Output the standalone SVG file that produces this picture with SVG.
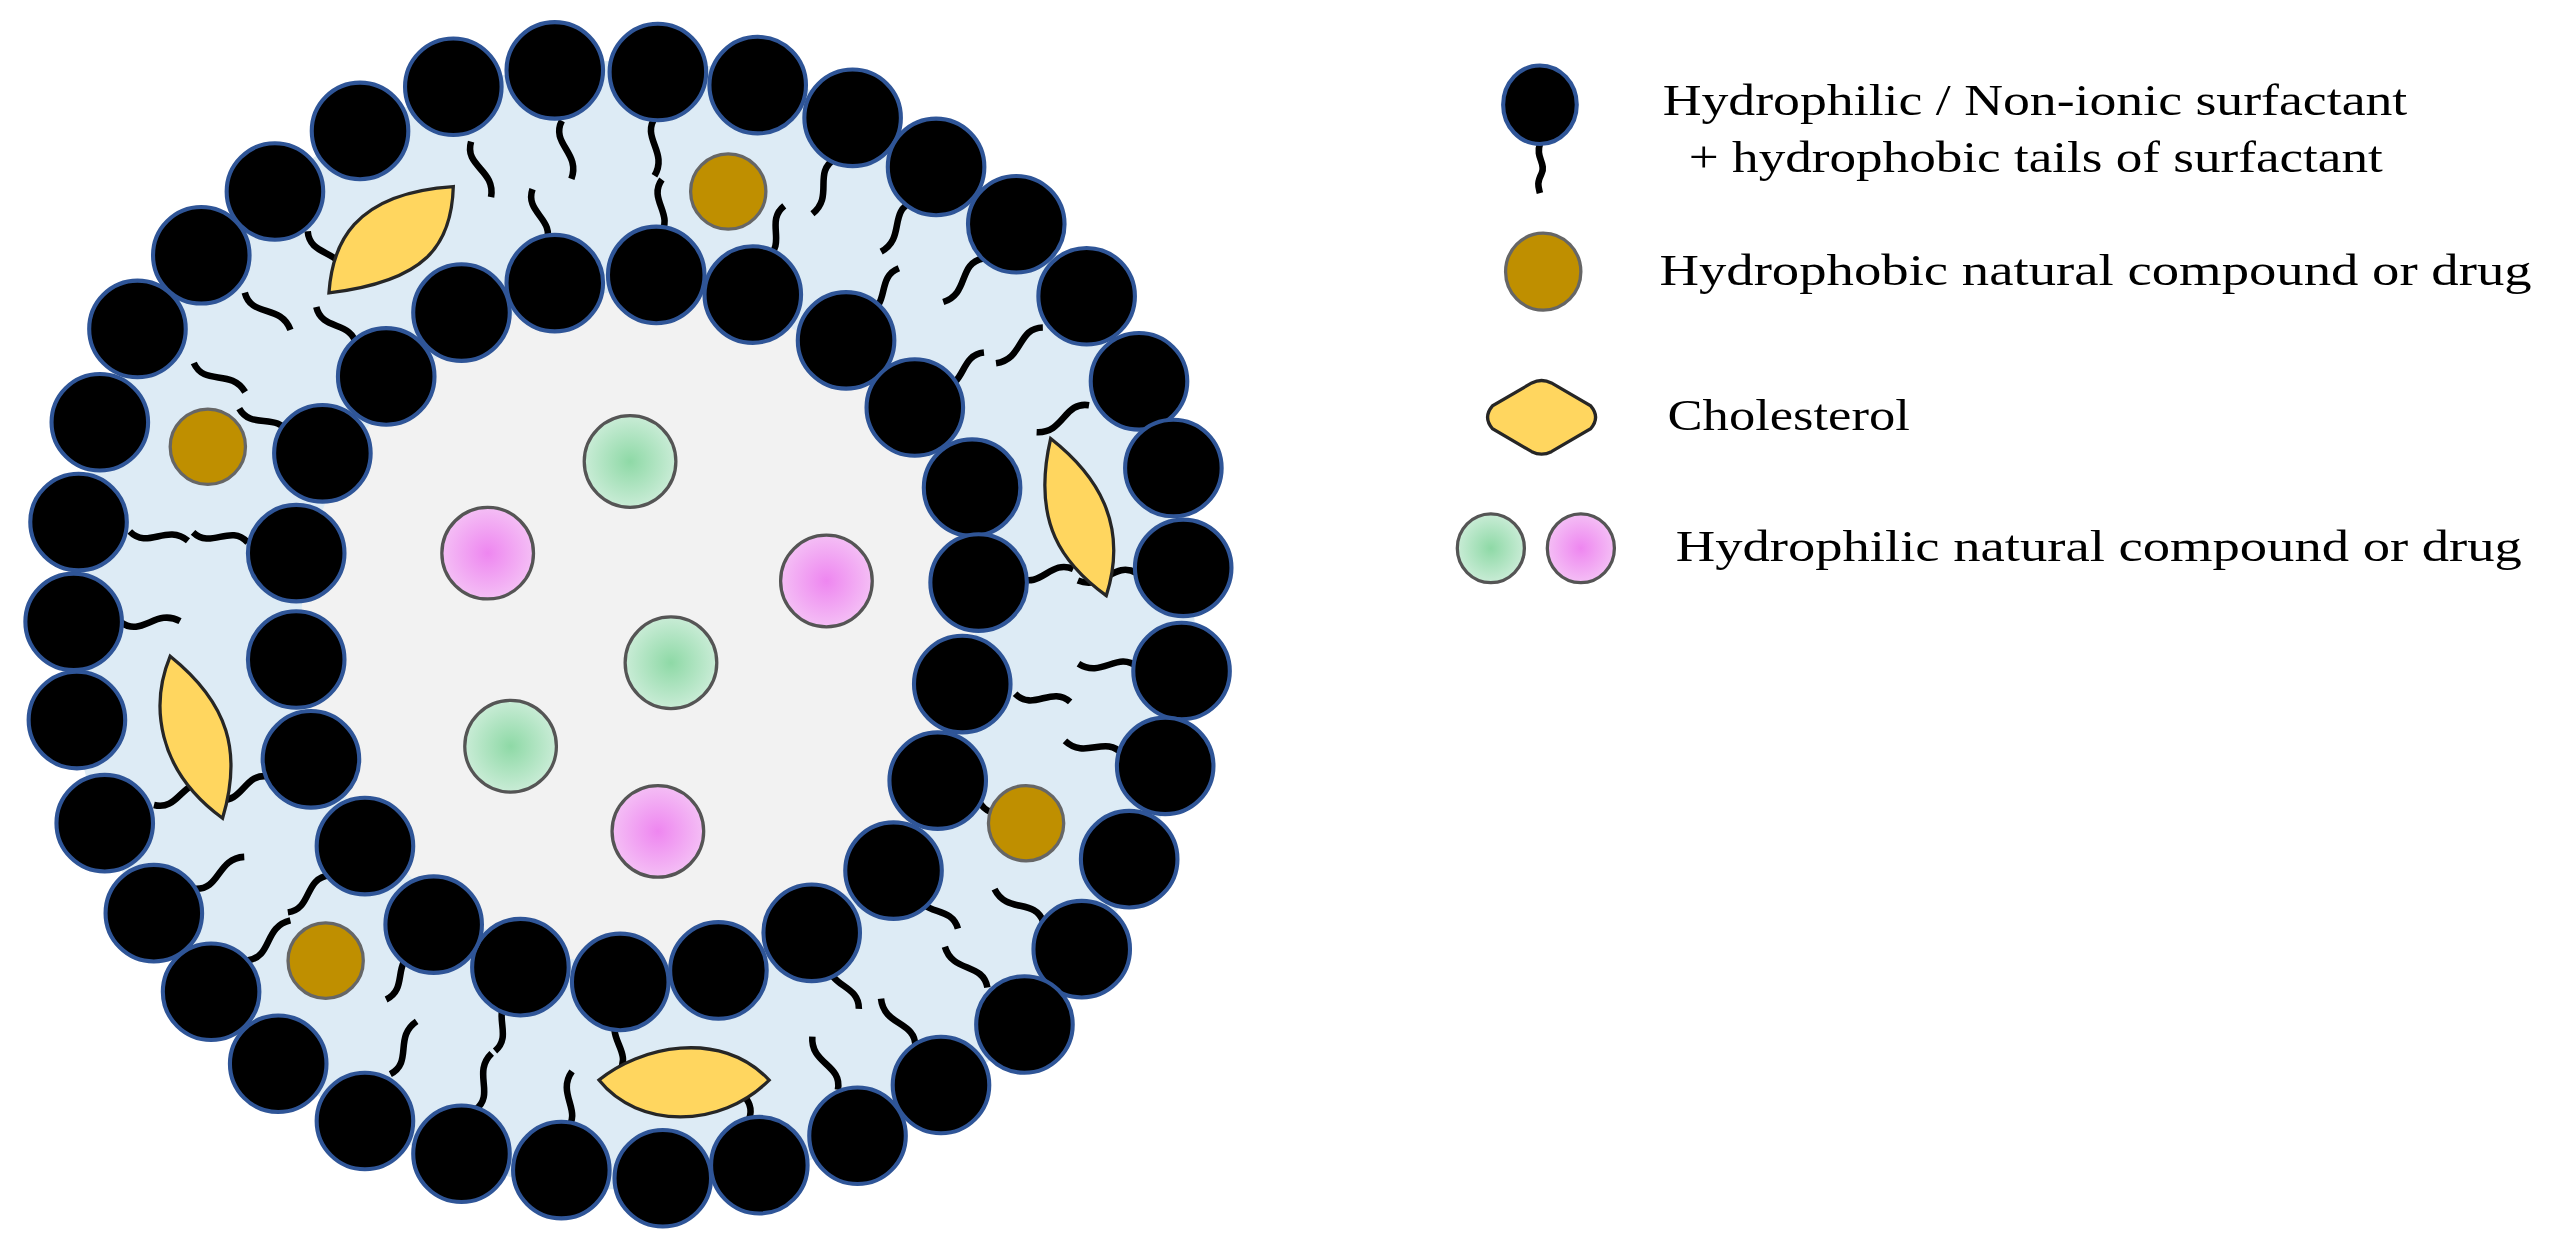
<svg xmlns="http://www.w3.org/2000/svg" xmlns:xlink="http://www.w3.org/1999/xlink" width="2566" height="1249" viewBox="0 0 2566 1249">
<style>
.h{fill:#000;stroke:#2F5597;stroke-width:2.5}
.t{fill:none;stroke:#000;stroke-width:4}
.b{fill:#BF8F00;stroke:#666;stroke-width:2}
.c{fill:#FFD65F;stroke:#262626;stroke-width:2}
.g{fill:url(#gg);stroke:#555;stroke-width:2}
.p{fill:url(#gp);stroke:#555;stroke-width:2}
.lt{font-family:"Liberation Serif",serif;font-size:27px;fill:#000}
</style>
<defs>
<radialGradient id="gg"><stop offset="0" stop-color="#8ED9A6"/><stop offset="1" stop-color="#C9ECD6"/></radialGradient>
<radialGradient id="gp"><stop offset="0" stop-color="#EE86F0"/><stop offset="1" stop-color="#F4BEF5"/></radialGradient>
<path id="to" class="t" d="M385,71 C376,84 394,92 386,107"/>
<path id="ti" class="t" d="M385,143 C394,130 376,122 384,109"/>
</defs>
<rect width="2566" height="1249" fill="#fff"/>
<g transform="scale(1.6365)">
<g id="membrane">
<circle cx="385" cy="382" r="345" fill="#DDEBF5"/>
<circle cx="390" cy="384" r="206" fill="#F2F2F2"/>
</g>
<g id="tails">
<use href="#to" transform="rotate(-7.7 385 382)"/><use href="#to" transform="rotate(2.9 385 382)"/>
<use href="#to" transform="rotate(23.7 385 382)"/><use href="#to" transform="rotate(33.7 385 382)"/><use href="#to" transform="rotate(43.9 385 382)"/><use href="#to" transform="rotate(54.2 385 382)"/><use href="#to" transform="rotate(64.4 385 382)"/>
<use href="#to" transform="rotate(84.1 385 382)"/><use href="#to" transform="rotate(94.7 385 382)"/><use href="#to" transform="rotate(104.7 385 382)"/>
<use href="#to" transform="rotate(125.7 385 382)"/><use href="#to" transform="rotate(135.4 385 382)"/><use href="#to" transform="rotate(145.9 385 382)"/><use href="#to" transform="rotate(155.9 385 382)"/><use href="#to" transform="rotate(166.5 385 382)"/>
<use href="#to" transform="rotate(187.2 385 382)"/><use href="#to" transform="rotate(197.7 385 382)"/><use href="#to" transform="rotate(208.1 385 382)"/>
<use href="#to" transform="rotate(228.8 385 382)"/><use href="#to" transform="rotate(238.8 385 382)"/><use href="#to" transform="rotate(249.3 385 382)"/>
<use href="#to" transform="rotate(270.3 385 382)"/><use href="#to" transform="rotate(280.6 385 382)"/>
<use href="#to" transform="rotate(301 385 382)"/><use href="#to" transform="rotate(310.8 385 382)"/><use href="#to" transform="rotate(320.7 385 382)"/><use href="#to" transform="rotate(341.8 385 382)"/>
<use href="#ti" transform="rotate(-12.4 385 382)"/><use href="#ti" transform="rotate(4.3 385 382)"/><use href="#ti" transform="rotate(20.4 385 382)"/><use href="#ti" transform="rotate(37.2 385 382)"/><use href="#ti" transform="rotate(52.6 385 382)"/>
<use href="#ti" transform="rotate(83 385 382)"/><use href="#ti" transform="rotate(100.1 385 382)"/><use href="#ti" transform="rotate(116.8 385 382)"/><use href="#ti" transform="rotate(133 385 382)"/><use href="#ti" transform="rotate(149.4 385 382)"/>
<use href="#ti" transform="rotate(181.6 385 382)"/><use href="#ti" transform="rotate(197.8 385 382)"/><use href="#ti" transform="rotate(213.3 385 382)"/><use href="#ti" transform="rotate(230.2 385 382)"/><use href="#ti" transform="rotate(247.2 385 382)"/>
<use href="#ti" transform="rotate(282.2 385 382)"/><use href="#ti" transform="rotate(299.2 385 382)"/><use href="#ti" transform="rotate(315.6 385 382)"/>
</g>
<g id="cholesterol">
<path class="c" d="M201,179 C203,150 215,118 277,114 C276,150 260,172 201,179 Z"/>
<path class="c" d="M642,268 C670,290 690,320 676,364 C650,345 630,320 642,268 Z"/>
<path class="c" d="M104,401 C92,430 95,470 136,500 C148,460 140,430 104,401 Z"/>
<path class="c" d="M366,660 C390,640 440,628 470,660 C440,690 390,690 366,660 Z"/>
</g>
<g id="hydrophobic">
<circle class="b" cx="445" cy="117" r="23"/><circle class="b" cx="127" cy="273" r="23"/>
<circle class="b" cx="199" cy="587" r="23"/><circle class="b" cx="627" cy="503" r="23"/>
</g>
<g id="hydrophilic">
<circle class="g" cx="385" cy="282" r="28"/><circle class="p" cx="298" cy="338" r="28"/>
<circle class="p" cx="505" cy="355" r="28"/><circle class="g" cx="410" cy="405" r="28"/>
<circle class="g" cx="312" cy="456" r="28"/><circle class="p" cx="402" cy="508" r="28"/>
</g>
<g id="outer-heads">
<circle class="h" cx="339" cy="43" r="29.5"/><circle class="h" cx="402" cy="44" r="29.5"/><circle class="h" cx="463" cy="52" r="29.5"/><circle class="h" cx="521" cy="72" r="29.5"/><circle class="h" cx="572" cy="102" r="29.5"/><circle class="h" cx="621" cy="137" r="29.5"/><circle class="h" cx="664" cy="181" r="29.5"/><circle class="h" cx="696" cy="233" r="29.5"/><circle class="h" cx="717" cy="286" r="29.5"/><circle class="h" cx="723" cy="347" r="29.5"/><circle class="h" cx="722" cy="410" r="29.5"/><circle class="h" cx="712" cy="468" r="29.5"/><circle class="h" cx="690" cy="525" r="29.5"/><circle class="h" cx="661" cy="580" r="29.5"/><circle class="h" cx="626" cy="626" r="29.5"/><circle class="h" cx="575" cy="663" r="29.5"/><circle class="h" cx="524" cy="694" r="29.5"/><circle class="h" cx="464" cy="712" r="29.5"/><circle class="h" cx="405" cy="720" r="29.5"/><circle class="h" cx="343" cy="715" r="29.5"/><circle class="h" cx="282" cy="705" r="29.5"/><circle class="h" cx="223" cy="685" r="29.5"/><circle class="h" cx="170" cy="650" r="29.5"/><circle class="h" cx="129" cy="606" r="29.5"/><circle class="h" cx="94" cy="558" r="29.5"/><circle class="h" cx="64" cy="503" r="29.5"/><circle class="h" cx="47" cy="440" r="29.5"/><circle class="h" cx="45" cy="380" r="29.5"/><circle class="h" cx="48" cy="319" r="29.5"/><circle class="h" cx="61" cy="258" r="29.5"/><circle class="h" cx="84" cy="201" r="29.5"/><circle class="h" cx="123" cy="156" r="29.5"/><circle class="h" cx="168" cy="117" r="29.5"/><circle class="h" cx="220" cy="80" r="29.5"/><circle class="h" cx="277" cy="53" r="29.5"/>
</g>
<g id="inner-heads">
<circle class="h" cx="339" cy="173" r="29.5"/><circle class="h" cx="401" cy="168" r="29.5"/><circle class="h" cx="460" cy="180" r="29.5"/><circle class="h" cx="517" cy="208" r="29.5"/><circle class="h" cx="559" cy="249" r="29.5"/><circle class="h" cx="594" cy="298" r="29.5"/><circle class="h" cx="598" cy="356" r="29.5"/><circle class="h" cx="588" cy="418" r="29.5"/><circle class="h" cx="573" cy="477" r="29.5"/><circle class="h" cx="546" cy="532" r="29.5"/><circle class="h" cx="496" cy="570" r="29.5"/><circle class="h" cx="439" cy="593" r="29.5"/><circle class="h" cx="379" cy="600" r="29.5"/><circle class="h" cx="318" cy="591" r="29.5"/><circle class="h" cx="265" cy="565" r="29.5"/><circle class="h" cx="223" cy="517" r="29.5"/><circle class="h" cx="190" cy="464" r="29.5"/><circle class="h" cx="181" cy="403" r="29.5"/><circle class="h" cx="181" cy="338" r="29.5"/><circle class="h" cx="197" cy="277" r="29.5"/><circle class="h" cx="236" cy="230" r="29.5"/><circle class="h" cx="282" cy="191" r="29.5"/>
</g>
<g id="legend">
<path class="t" d="M941,88 C938,96 945,100 942,106 S940,114 941,118"/>
<ellipse class="h" cx="941" cy="64" rx="22.5" ry="24"/>
<text class="lt" x="1016" y="70" textLength="455" lengthAdjust="spacingAndGlyphs">Hydrophilic / Non-ionic surfactant</text>
<text class="lt" x="1032" y="105" textLength="424" lengthAdjust="spacingAndGlyphs">+ hydrophobic tails of surfactant</text>
<ellipse class="b" cx="943" cy="166" rx="23" ry="23.5"/>
<text class="lt" x="1014" y="174" textLength="533" lengthAdjust="spacingAndGlyphs">Hydrophobic natural compound or drug</text>
<path class="c" d="M912,248 Q906,255 912,262 L936,276 Q942,279 948,276 L972,262 Q978,255 972,248 L948,234 Q942,231 936,234 Z"/>
<text class="lt" x="1019" y="263" textLength="148" lengthAdjust="spacingAndGlyphs">Cholesterol</text>
<ellipse class="g" cx="911" cy="335" rx="20.5" ry="21"/>
<ellipse class="p" cx="966" cy="335" rx="20.5" ry="21"/>
<text class="lt" x="1024" y="343" textLength="517" lengthAdjust="spacingAndGlyphs">Hydrophilic natural compound or drug</text>
</g>
</g>
</svg>
